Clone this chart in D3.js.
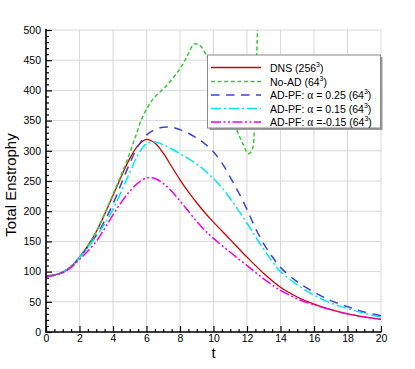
<!DOCTYPE html>
<html><head><meta charset="utf-8">
<script src="https://cdn.jsdelivr.net/npm/d3@7"></script>
<style>body{margin:0;background:#fff}svg{display:block}text{font-family:"Liberation Sans",Arial,sans-serif}</style>
</head><body><svg id="c" width="415" height="369"></svg>
<script>
// ---- data ----
const tDNS = [0,0.5,1,1.5,2,2.5,3,3.5,4,4.5,5,5.5,6,6.5,7,7.5,8,8.5,9,9.5,10,11,12,13,14,15,16,17,18,19,20];
const vDNS = [93,94.5,99,109,124,143,166,195,226,258,287,309,319,313,296,274,252,232,214,197,182,153,124,97,74,58,46,37,30,25,21];
const tNoAD = [0,0.5,1,1.5,2,2.5,3,3.5,4,4.5,4.8,5.3,5.8,6.4,7.2,8,8.4,8.85,9.2,9.6,10,10.5,11,11.4,11.8,12.08,12.3,12.45,12.55,12.65];
const vNoAD = [93,94.5,99,109,124,143,166,196,228,261,281,320,358,386,408,436,455,477,474,457,431,397,363,334,309,295,301,342,430,520];
const tA25 = [0,0.5,1,1.5,2,2.5,3,3.5,4,4.5,5,5.5,6,6.5,7,7.5,8,8.5,9,9.5,10,10.5,11,11.5,12,12.5,13,13.5,14,15,16,17,18,19,20];
const vA25 = [92,94,99,108,123,141,160,184,212,246,279,308,326,335,339,339,335,329,321,311,298,280,256,231,203,172,146,125,107,83,66,52,42,33,27];
const tA15 = [0,0.5,1,1.5,2,2.5,3,3.5,4,4.5,5,5.5,6,6.5,7,7.5,8,8.5,9,9.5,10,10.5,11,11.5,12,12.5,13,13.5,14,15,16,17,18,19,20];
const vA15 = [92,94,99,108,123,140,158,179,203,233,264,294,312,315,310,303,295,287,278,267,254,239,221,201,180,158,137,117,100,78,61,48,39,31,25];
const tAm15 = [0,0.5,1,1.5,2,2.5,3,3.5,4,4.5,5,5.5,6,6.5,7,7.5,8,8.5,9,9.5,10,11,12,13,14,15,16,17,18,19,20];
const vAm15 = [92,94,98,107,120,134,150,171,194,215,233,247,255,254,246,233,217,200,183,168,155,132,110,88,69,55,45,37,30,25,21];

const seriesNames = ["DNS (256", "No-AD (64", "AD-PF: ", "AD-PF: ", "AD-PF: "];
const alphaText = [null, null, " = 0.25 (64", " = 0.15 (64", " =-0.15 (64"];
const colors = ["#d40000", "#33cc33", "#3a44d8", "#00e8ee", "#ee00ee"];
const dashes = [null, "4,2.6", "8.5,6.5", "10,3,2,3", "10,2.5,2,2.5,2,2.5"];
const xTicks = [0,2,4,6,8,10,12,14,16,18,20];
const yTicks = [0,50,100,150,200,250,300,350,400,450,500];

const series = [[tDNS,vDNS],[tNoAD,vNoAD],[tA25,vA25],[tA15,vA15],[tAm15,vAm15]];

const svg = d3.select("#c");
const L = 46, T = 30, R = 381, B = 332;
const x = d3.scaleLinear().domain([0,20]).range([L,R]);
const y = d3.scaleLinear().domain([0,500]).range([B,T]);

// grid
const g = svg.append("g");
g.selectAll(".gx").data(xTicks).join("line")
  .attr("x1",d=>x(d)).attr("x2",d=>x(d)).attr("y1",T).attr("y2",B)
  .attr("stroke","#d9d9d9").attr("stroke-width",1);
g.selectAll(".gy").data(yTicks).join("line")
  .attr("x1",L).attr("x2",R).attr("y1",d=>y(d)).attr("y2",d=>y(d))
  .attr("stroke","#d9d9d9").attr("stroke-width",1);

// clip
svg.append("clipPath").attr("id","clip").append("rect")
  .attr("x",L).attr("y",T).attr("width",R-L).attr("height",B-T);

const line = d3.line().x(d=>x(d[0])).y(d=>y(d[1])).curve(d3.curveCatmullRom.alpha(0.5));
const lg = svg.append("g").attr("clip-path","url(#clip)");
series.forEach((s,i)=>{
  const pts = s[0].map((t,j)=>[t,s[1][j]]);
  lg.append("path").attr("d",line(pts)).attr("fill","none")
    .attr("stroke",colors[i]).attr("stroke-width",i===0?1.3:1.5)
    .attr("stroke-dasharray",dashes[i]);
});

// axes
const xAxis = d3.axisBottom(x).tickValues(xTicks).tickSize(-6).tickPadding(3).tickFormat(d3.format("d"));
const xMinor = d3.axisBottom(x).tickValues(d3.range(0,20.01,0.5).filter(v=>v%2!==0)).tickSize(-3).tickFormat("");
const yAxis = d3.axisLeft(y).tickValues(yTicks).tickSize(-6).tickPadding(5).tickFormat(d3.format("d"));
const yMinor = d3.axisLeft(y).tickValues(d3.range(0,501,10).filter(v=>v%50!==0)).tickSize(-3).tickFormat("");
function style(sel){
  sel.select(".domain").remove();
  sel.selectAll("line").attr("stroke","#000").attr("stroke-width",1.2);
  sel.selectAll("text").attr("font-size",10.5).attr("fill","#000").style("font-family","Liberation Sans, Arial, sans-serif");
}
svg.append("g").attr("transform",`translate(0,${B})`).call(xMinor).call(style);
svg.append("g").attr("transform",`translate(0,${B})`).call(xAxis).call(style);
svg.append("g").attr("transform",`translate(${L},0)`).call(yMinor).call(style);
svg.append("g").attr("transform",`translate(${L},0)`).call(yAxis).call(style);
svg.append("line").attr("x1",L).attr("x2",L).attr("y1",T-1).attr("y2",B+0.5).attr("stroke","#000").attr("stroke-width",1.6);
svg.append("line").attr("x1",L-0.5).attr("x2",R+0.5).attr("y1",B).attr("y2",B).attr("stroke","#000").attr("stroke-width",1.6);

// titles
svg.append("text").attr("x",(L+R)/2).attr("y",358).attr("text-anchor","middle").attr("font-size",15).text("t");
svg.append("text").attr("transform",`translate(16,${(T+B)/2+4}) rotate(-90)`).attr("text-anchor","middle").attr("font-size",15).text("Total Enstrophy");

// legend
const lx = 207.5, ly = 55, lw = 173, lh = 73;
svg.append("rect").attr("x",lx+2).attr("y",ly+2).attr("width",lw).attr("height",lh).attr("fill","#9a9a9a");
svg.append("rect").attr("x",lx).attr("y",ly).attr("width",lw).attr("height",lh).attr("fill","#fff").attr("stroke","#888").attr("stroke-width",1);
const rowY = [67.5,81.5,95,108.5,122];
seriesNames.forEach((n,i)=>{
  svg.append("line").attr("x1",211).attr("x2",261).attr("y1",rowY[i]).attr("y2",rowY[i])
    .attr("stroke",colors[i]).attr("stroke-width",1.5).attr("stroke-dasharray",dashes[i]);
  const t = svg.append("text").attr("x",270).attr("y",rowY[i]+4).attr("font-size",10.5);
  t.append("tspan").text(n);
  if(alphaText[i]){
    t.append("tspan").style("font-family","Liberation Serif, serif").attr("font-size",11.5).text("α");
    t.append("tspan").text(alphaText[i]);
  }
  t.append("tspan").attr("font-size",7).attr("dy",-5).text("3");
  t.append("tspan").attr("dy",5).text(")");
});
</script></body></html>
